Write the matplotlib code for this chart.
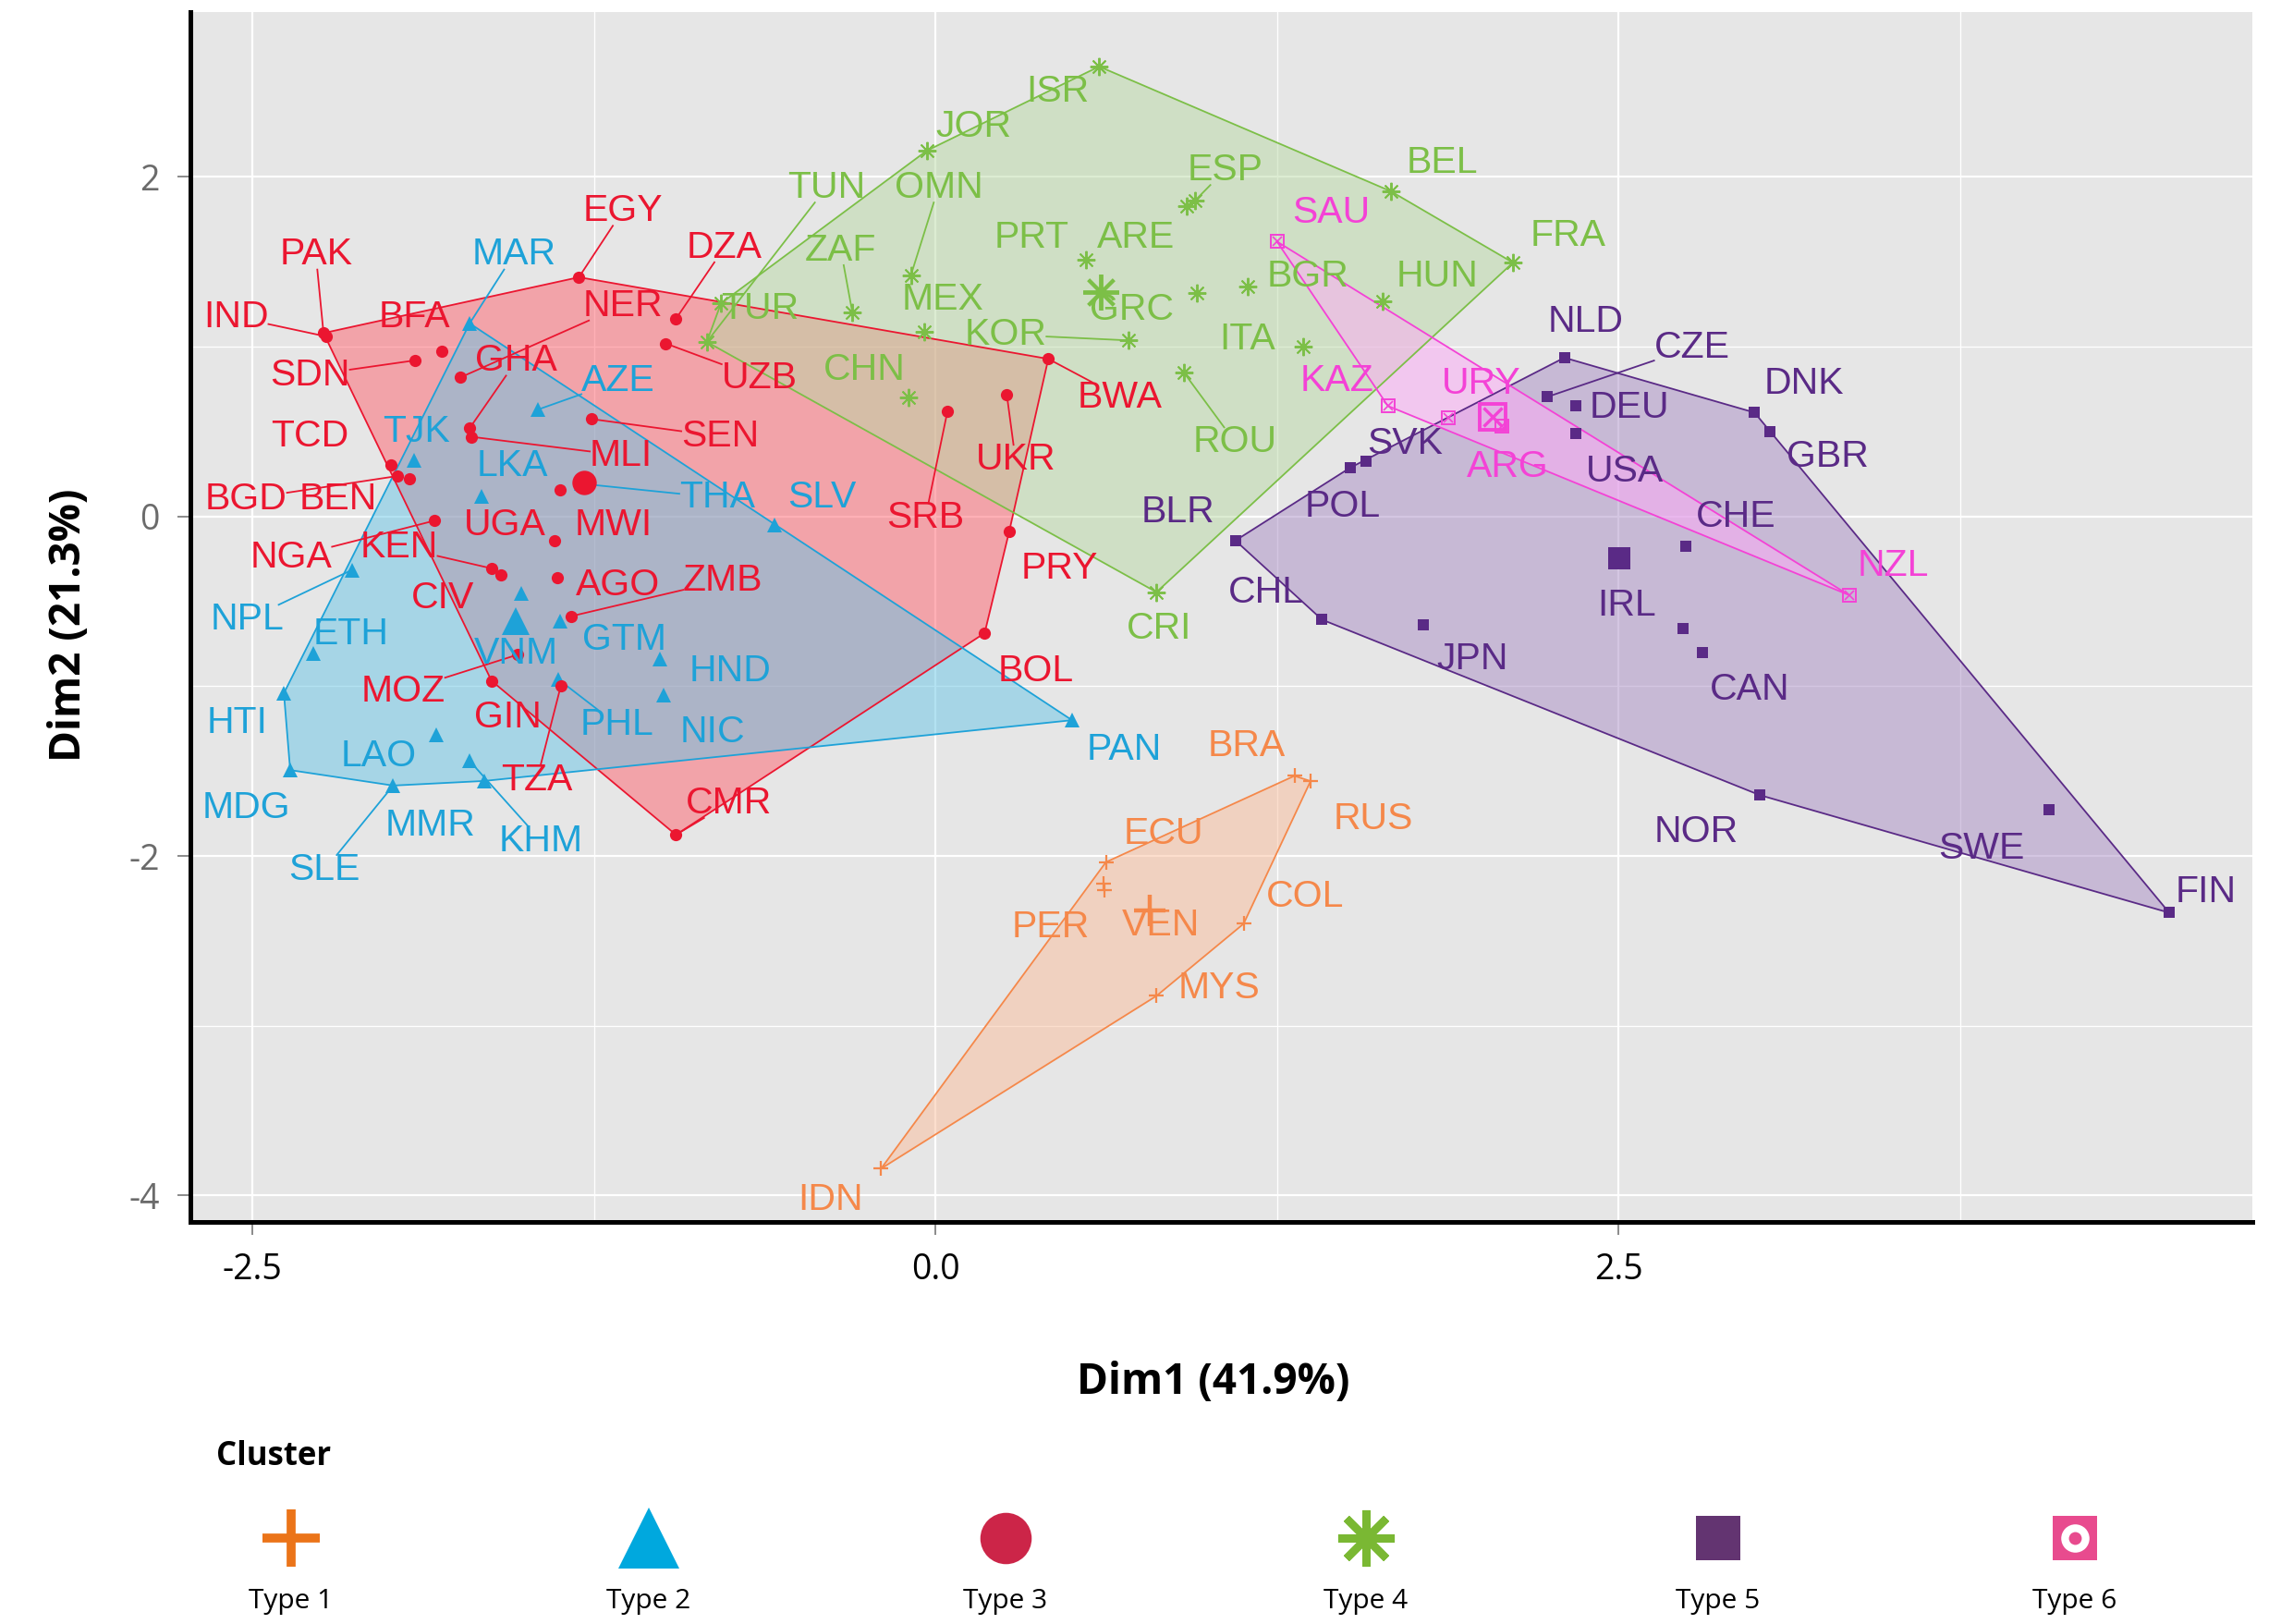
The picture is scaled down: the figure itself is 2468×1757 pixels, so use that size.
import numpy as np
import matplotlib.pyplot as plt

# country scores on the two first dimensions, with the cluster (0..5 = Type 1..6)
codes = ["BRA", "RUS", "ECU", "PER", "VEN", "COL", "MYS", "IDN",
         "MAR", "AZE", "TJK", "LKA", "THA", "SLV", "NPL", "ETH", "HTI", "MDG",
         "SLE", "LAO", "MMR", "KHM", "VNM", "GTM", "HND", "NIC", "PHL", "PAN",
         "PAK", "IND", "SDN", "BFA", "NER", "EGY", "DZA", "UZB", "GHA", "MLI",
         "SEN", "TCD", "BGD", "BEN", "MWI", "NGA", "UGA", "KEN", "CIV", "AGO",
         "ZMB", "MOZ", "GIN", "TZA", "CMR", "BWA", "UKR", "SRB", "PRY", "BOL",
         "ISR", "JOR", "TUN", "TUR", "OMN", "ZAF", "MEX", "CHN", "KOR", "PRT",
         "ARE", "ESP", "GRC", "BGR", "ITA", "ROU", "BEL", "HUN", "FRA", "CRI",
         "NLD", "CZE", "DEU", "USA", "DNK", "GBR", "SVK", "POL", "BLR", "CHL",
         "JPN", "CHE", "IRL", "CAN", "NOR", "SWE", "FIN",
         "SAU", "KAZ", "ARG", "URY", "NZL"]
dim1 = [1.314, 1.373, 0.624, 0.616, 0.620, 1.128, 0.809, -0.199,
        -1.705, -1.456, -1.909, -1.660, -1.297, -0.588, -2.136, -2.279, -2.385, -2.362,
        -1.985, -1.826, -1.652, -1.705, -1.517, -1.373, -1.010, -0.995, -1.380, 0.500,
        -2.240, -2.230, -1.906, -1.808, -1.739, -1.305, -0.950, -0.988, -1.705, -1.698,
        -1.260, -1.992, -1.970, -1.924, -1.373, -1.834, -1.394, -1.625, -1.591, -1.383,
        -1.332, -1.529, -1.625, -1.371, -0.950, 0.413, 0.261, 0.044, 0.270, 0.180,
        0.599, -0.032, -0.837, -0.785, -0.090, -0.304, -0.040, -0.100, 0.706, 0.550,
        0.920, 0.950, 0.958, 1.143, 1.347, 0.910, 1.667, 1.638, 2.114, 0.809,
        2.302, 2.239, 2.344, 2.344, 2.998, 3.056, 1.577, 1.517, 1.098, 1.415,
        1.786, 2.747, 2.737, 2.807, 3.017, 4.077, 4.516,
        1.250, 1.656, 1.878, 2.074, 3.344]
dim2 = [-1.528, -1.559, -2.036, -2.160, -2.200, -2.399, -2.824, -3.841,
        1.137, 0.629, 0.329, 0.120, 0.193, -0.052, -0.315, -0.805, -1.041, -1.494,
        -1.585, -1.286, -1.558, -1.440, -0.451, -0.614, -0.841, -1.050, -0.960, -1.200,
        1.080, 1.060, 0.919, 0.973, 0.819, 1.409, 1.164, 1.019, 0.520, 0.469,
        0.574, 0.302, 0.238, 0.220, 0.157, -0.025, -0.143, -0.306, -0.342, -0.360,
        -0.587, -0.814, -0.968, -0.996, -1.875, 0.928, 0.719, 0.620, -0.088, -0.687,
        2.650, 2.154, 1.028, 1.255, 1.420, 1.200, 1.085, 0.703, 1.037, 1.514,
        1.830, 1.860, 1.314, 1.352, 0.999, 0.846, 1.915, 1.266, 1.495, -0.446,
        0.935, 0.704, 0.651, 0.490, 0.612, 0.498, 0.327, 0.286, -0.142, -0.608,
        -0.637, -0.176, -0.662, -0.803, -1.641, -1.726, -2.334,
        1.619, 0.651, 0.583, 0.534, -0.463]
cluster = [0] * 8 + [1] * 20 + [2] * 30 + [3] * 20 + [4] * 17 + [5] * 5

# where the repelled text labels sit (data units)
label_dim1 = [1.14, 1.603, 0.836, 0.421, 0.825, 1.353, 1.038, -0.383,
              -1.544, -1.161, -1.901, -1.55, -0.799, -0.415, -2.519, -2.141, -2.556, -2.524,
              -2.236, -2.039, -1.848, -1.443, -1.534, -1.14, -0.751, -0.815, -1.166, 0.692,
              -2.268, -2.561, -2.29, -1.906, -1.145, -1.145, -0.772, -0.644, -1.534, -1.15,
              -0.788, -2.29, -2.524, -2.188, -1.177, -2.359, -1.576, -1.965, -1.805, -1.161,
              -0.777, -1.949, -1.565, -1.459, -0.756, 0.676, 0.293, -0.037, 0.453, 0.367,
              0.447, 0.138, -0.399, -0.644, 0.011, -0.346, 0.027, -0.261, 0.256, 0.351,
              0.735, 1.06, 0.719, 1.363, 1.14, 1.097, 1.853, 1.837, 2.316, 0.82,
              2.38, 2.769, 2.54, 2.524, 3.179, 3.264, 1.72, 1.491, 0.889, 1.209,
              1.965, 2.929, 2.529, 2.982, 2.785, 3.829, 4.649,
              1.448, 1.47, 2.093, 1.997, 3.504]
label_dim2 = [-1.354, -1.782, -1.868, -2.416, -2.408, -2.237, -2.776, -4.027,
              1.542, 0.797, 0.497, 0.30, 0.111, 0.111, -0.608, -0.694, -1.217, -1.714,
              -2.082, -1.414, -1.817, -1.911, -0.806, -0.728, -0.908, -1.268, -1.225, -1.371,
              1.542, 1.174, 0.831, 1.174, 1.242, 1.80, 1.585, 0.814, 0.917, 0.36,
              0.471, 0.471, 0.103, 0.103, -0.051, -0.24, -0.051, -0.18, -0.48, -0.403,
              -0.377, -1.028, -1.183, -1.551, -1.688, 0.703, 0.334, -0.009, -0.308, -0.908,
              2.502, 2.296, 1.937, 1.225, 1.937, 1.568, 1.277, 0.865, 1.071, 1.645,
              1.645, 2.04, 1.217, 1.414, 1.045, 0.437, 2.082, 1.414, 1.654, -0.66,
              1.148, 0.994, 0.643, 0.266, 0.78, 0.351, 0.428, 0.06, 0.026, -0.446,
              -0.84, 0.0, -0.523, -1.02, -1.859, -1.954, -2.211,
              1.791, 0.797, 0.291, 0.78, -0.291]

# labels that are joined to their point by a segment
segment_codes = {"EGY", "PAK", "DZA", "NER", "IND", "SDN", "GHA", "UZB", "BWA", "SEN",
                 "MLI", "UKR", "BGD", "SRB", "NGA", "KEN", "ZMB", "MOZ", "TZA", "CMR",
                 "MAR", "AZE", "THA", "NPL", "PHL", "KHM", "SLE",
                 "TUN", "OMN", "ZAF", "ESP", "KOR", "ROU", "CZE"}

type_names = ["Type 1", "Type 2", "Type 3", "Type 4", "Type 5", "Type 6"]
point_colors = ["#F5884A", "#1EA2D8", "#EB1630", "#7CBF47", "#5A2A86", "#F442D6"]
fill_colors = ["#FABE9C", "#68C6E6", "#FF626E", "#BADAA6", "#AA8EC6", "#FFAAF8"]
legend_colors = ["#EB7419", "#00A8DE", "#CC2548", "#7AB833", "#633471", "#E84B8E"]

dim1 = np.array(dim1)
dim2 = np.array(dim2)
cluster = np.array(cluster)

LABEL_FONT = "Liberation Sans"
AXIS_FONT = "Open Sans"


def convex_hull(pts):
    pts = sorted(set(pts))
    if len(pts) < 3:
        return pts

    def cross(o, a, b):
        return (a[0] - o[0]) * (b[1] - o[1]) - (a[1] - o[1]) * (b[0] - o[0])

    lower = []
    for p in pts:
        while len(lower) >= 2 and cross(lower[-2], lower[-1], p) <= 0:
            lower.pop()
        lower.append(p)
    upper = []
    for p in reversed(pts):
        while len(upper) >= 2 and cross(upper[-2], upper[-1], p) <= 0:
            upper.pop()
        upper.append(p)
    return lower[:-1] + upper[:-1]


def draw_marker(ax, x, y, k, big=False):
    c = point_colors[k]
    f = 2.0 if big else 1.0
    if k == 0:
        ax.plot(x, y, ls="none", marker="+", ms=12 * f, mew=1.6 * f, color=c, zorder=5)
    elif k == 1:
        ax.plot(x, y, ls="none", marker="^", ms=11 * f, color=c, mew=0, zorder=5)
    elif k == 2:
        ax.plot(x, y, ls="none", marker="o", ms=9.5 * f, color=c, mew=0, zorder=5)
    elif k == 3:
        ax.plot(x, y, ls="none", marker=(8, 2, 0), ms=14 * f, mew=1.4 * f, color=c, zorder=5)
    elif k == 4:
        ax.plot(x, y, ls="none", marker="s", ms=8.5 * f, color=c, mew=0, zorder=5)
    else:
        ax.plot(x, y, ls="none", marker="s", ms=10 * f, mfc="none", mec=c, mew=1.4 * f, zorder=5)
        ax.plot(x, y, ls="none", marker="x", ms=7 * f, color=c, mew=1.2 * f, zorder=5)


fig = plt.figure(figsize=(24.68, 17.57), dpi=100)
ax = fig.add_axes([0.0835, 0.2476, 0.9039, 0.745])
ax.set_facecolor("#E6E6E6")
ax.set_xlim(-2.727, 4.82)
ax.set_ylim(-4.155, 2.971)
ax.set_autoscale_on(False)

ax.set_xticks([-2.5, 0.0, 2.5])
ax.set_xticks([-1.25, 1.25, 3.75], minor=True)
ax.set_yticks([-4, -2, 0, 2])
ax.set_yticks([-3, -1, 1], minor=True)
ax.set_xticklabels(["-2.5", "0.0", "2.5"], fontfamily=AXIS_FONT, fontsize=27, color="black")
ax.set_yticklabels(["-4", "-2", "0", "2"], fontfamily=AXIS_FONT, fontsize=27, color="#6B6B6B")
ax.set_axisbelow(True)
ax.grid(which="major", color="white", lw=1.6)
ax.grid(which="minor", color="white", lw=0.9)
ax.tick_params(which="major", length=10, width=1.4, color="#8A8A8A", pad=14)
ax.tick_params(which="minor", length=0)
for side in ["top", "right"]:
    ax.spines[side].set_visible(False)
for side in ["left", "bottom"]:
    ax.spines[side].set_linewidth(3.6)
    ax.spines[side].set_color("black")

# hulls
for k in [2, 1, 3, 4, 5, 0]:
    m = cluster == k
    hull = convex_hull(list(zip(dim1[m], dim2[m])))
    hx = [p[0] for p in hull]
    hy = [p[1] for p in hull]
    ax.fill(hx, hy, color=fill_colors[k], alpha=0.5, lw=0, zorder=1)
    ax.plot(hx + [hx[0]], hy + [hy[0]], color=point_colors[k], lw=1.3, zorder=2)

# points and cluster centres
for k in range(6):
    m = cluster == k
    draw_marker(ax, dim1[m], dim2[m], k)
    draw_marker(ax, dim1[m].mean(), dim2[m].mean(), k, big=True)

# labels
texts = []
for i, code in enumerate(codes):
    t = ax.text(label_dim1[i], label_dim2[i], code, ha="center", va="center",
                fontsize=29.5, fontfamily=LABEL_FONT, color=point_colors[cluster[i]], zorder=7)
    texts.append(t)

# axis titles
fig.text(0.532, 0.149, "Dim1 (41.9%)", ha="center", va="center",
         fontsize=33, fontweight="bold", fontfamily=AXIS_FONT)
fig.text(0.030, 0.615, "Dim2 (21.3%)", ha="center", va="center", rotation=90,
         fontsize=33, fontweight="bold", fontfamily=AXIS_FONT)

# segments from point to label box edge
fig.canvas.draw()
renderer = fig.canvas.get_renderer()
inv = ax.transData.inverted()
for i, code in enumerate(codes):
    if code not in segment_codes:
        continue
    bb = texts[i].get_window_extent(renderer).expanded(1.0, 0.85)
    p = ax.transData.transform((dim1[i], dim2[i]))
    c = np.array([(bb.x0 + bb.x1) / 2, (bb.y0 + bb.y1) / 2])
    d = c - p
    s_vals = []
    for lo, hi, pp, dd in [(bb.x0, bb.x1, p[0], d[0]), (bb.y0, bb.y1, p[1], d[1])]:
        if abs(dd) > 1e-9:
            s_vals.append(min((lo - pp) / dd, (hi - pp) / dd))
    s = max(s_vals)
    if s <= 0:
        continue
    e = p + s * d
    a, b = inv.transform(p), inv.transform(e)
    ax.plot([a[0], b[0]], [a[1], b[1]], color=point_colors[cluster[i]], lw=1.3, zorder=4)

# legend strip
lg = fig.add_axes([0, 0, 1, 0.12])
lg.set_xlim(0, 1)
lg.set_ylim(0, 0.12)
lg.axis("off")
fig.text(0.120, 0.103, "Cluster", ha="center", va="center", fontsize=25,
         fontweight="bold", fontfamily=AXIS_FONT)
leg_x = [0.1276, 0.2844, 0.4408, 0.5989, 0.7532, 0.9096]
for k in range(6):
    c = legend_colors[k]
    x, y = leg_x[k], 0.053
    if k == 0:
        lg.plot(x, y, marker="+", ms=44, mew=7, color=c)
    elif k == 1:
        lg.plot(x, y, marker="^", ms=48, color=c, mew=0)
    elif k == 2:
        lg.plot(x, y, marker="o", ms=40, color=c, mew=0)
    elif k == 3:
        lg.plot(x, y, marker=(8, 2, 0), ms=44, mew=6, color=c)
    elif k == 4:
        lg.plot(x, y, marker="s", ms=35, color=c, mew=0)
    else:
        lg.plot(x, y, marker="s", ms=35, color=c, mew=0)
        lg.plot(x, y, marker="o", ms=22, color="white", mew=0)
        lg.plot(x, y, marker="o", ms=10, color=c, mew=0)
    lg.text(x, 0.0137, type_names[k], ha="center", va="center", fontsize=21.5,
            fontfamily=AXIS_FONT)

fig.savefig("out.png", dpi=100, facecolor="white")
